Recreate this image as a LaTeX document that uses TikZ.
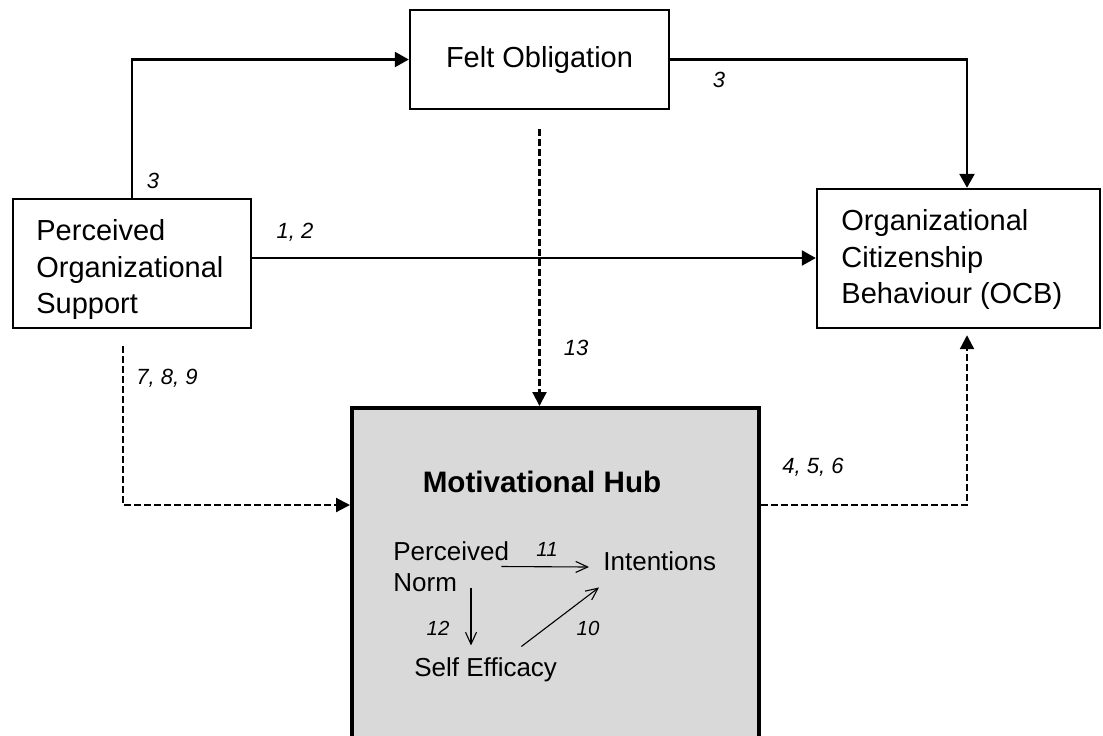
\documentclass[tikz,border=0pt]{standalone}
\usepackage{fontspec}
\setmainfont{Liberation Sans}
\usetikzlibrary{arrows.meta,calc}

\begin{document}
\begin{tikzpicture}[x=0.5pt,y=-0.5pt,
  box/.style={draw, line width=1.2pt, rectangle, inner sep=0pt},
  hubbox/.style={draw, line width=2pt, fill=black!15, rectangle, inner sep=0pt},
  maintext/.style={font=\fontsize{14.5pt}{18.4pt}\selectfont, align=left, inner sep=0pt},
  innertext/.style={font=\fontsize{13pt}{15.5pt}\selectfont, align=left, inner sep=0pt},
  lbl/.style={font=\fontsize{11pt}{13pt}\selectfont\itshape, inner sep=0pt},
  inlbl/.style={font=\fontsize{10.2pt}{12pt}\selectfont\itshape, inner sep=0pt},
  solid arrow/.style={line width=1.2pt, -{Triangle[length=7pt,width=7.5pt]}},
  dash arrow/.style={line width=1.1pt, dash pattern=on 3.5pt off 1.5pt, -{Triangle[length=7pt,width=7pt]}},
  thin arrow/.style={line width=0.55pt, -{Straight Barb[length=6pt,width=5.5pt]}}]

\useasboundingbox (0,0) rectangle (1103,735);
\fill[white] (0,0) rectangle (1103,735);

% boxes
\node[box, minimum width=129.5pt, minimum height=49.5pt, font=\fontsize{14.5pt}{18.4pt}\selectfont]
  (felt) at (539.5,59.5) {\raisebox{-4pt}{Felt Obligation}};
\node[box, minimum width=119pt, minimum height=64.5pt] (pos) at (132,263.5) {};
\node[maintext, anchor=west] (postext) at (36,269.5) {Perceived\\Organizational\\Support};
\node[box, minimum width=141.5pt, minimum height=69.5pt] (ocb) at (958.5,258.5) {};
\node[maintext, anchor=west] (ocbtext) at (841,259.5) {Organizational\\Citizenship\\Behaviour (OCB)};
\node[hubbox, minimum width=203.5pt, minimum height=176pt] (hub) at (555.5,584) {};

% contents of the hub
\node[font=\fontsize{14.8pt}{18pt}\selectfont\bfseries, inner sep=0pt] (hubtitle) at (542,482) {Motivational Hub};
\node[innertext, anchor=west] (pn) at (393,566.5) {Perceived\\Norm};
\node[innertext, anchor=west] (int) at (603,561) {Intentions};
\node[innertext, anchor=west] (se) at (414,670) {Self Efficacy};

% solid connectors
\draw[solid arrow] (pos.north) |- (felt.west);
\draw[solid arrow] (felt.east) -| ([xshift=4.25pt]ocb.north);
\draw[solid arrow] ([yshift=2.75pt]pos.east) -- ([yshift=2.75pt]pos.east -| ocb.west);

% dashed connectors
\draw[dash arrow] ([yshift=-9.5pt]felt.south) -- (felt.south |- hub.north);
\draw[dash arrow] ([xshift=-4.5pt,yshift=-8.5pt]pos.south) |- ([yshift=-49.5pt]hub.north west);
\draw[dash arrow] ([yshift=-49.5pt]hub.north east) -| ([xshift=4.25pt,yshift=-3pt]ocb.south);

% connectors inside the hub
\draw[thin arrow] ([xshift=-4pt]pn.east) -- ([xshift=-7pt,yshift=-3pt]int.west);
\draw[thin arrow] ([xshift=39pt,yshift=2pt]pn.south west) coordinate (a12) -- ($(a12 |- se.north)+(0,-12)$);
\draw[thin arrow] ($(se.north east)+(-36,-11)$) -- ($(int.south west)+(-4,16.5)$);

% path labels
\node[lbl] (l3a) at (153,181) {3};
\node[lbl] (l3b) at (719,80) {3};
\node[lbl] (l12) at (295,232) {1, 2};
\node[lbl] (l13) at (576,348) {13};
\node[lbl] (l789) at (167,378) {7, 8, 9};
\node[lbl] (l456) at (813,467) {4, 5, 6};
\node[inlbl] (l11) at (547,549) {11};
\node[inlbl] (l12b) at (438,628) {12};
\node[inlbl] (l10) at (588,628) {10};

\end{tikzpicture}
\end{document}
